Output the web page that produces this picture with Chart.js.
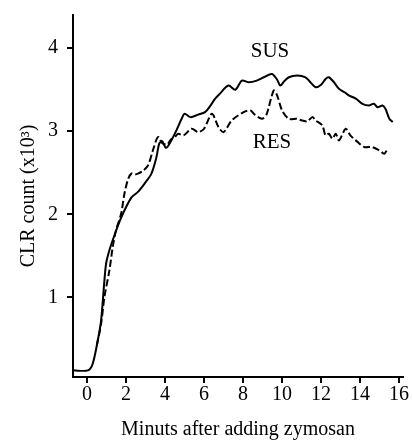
<!DOCTYPE html>
<html>
<head>
<meta charset="utf-8">
<script src="https://cdn.jsdelivr.net/npm/chart.js@4.4.1/dist/chart.umd.min.js"></script>
<style>
  body { margin: 0; background: #fff; }
  canvas { display: block; }
</style>
</head>
<body>
<canvas id="clrChart" width="413" height="441"></canvas>
<script>
// Minutes after adding zymosan (x) and CLR count x10^3 (y)
const susX = [-0.72, 0.05, 0.29, 0.55, 0.72, 0.89, 0.98, 1.15, 1.41, 1.75, 2.27, 2.61, 2.95, 3.3, 3.55, 3.7, 3.85, 4.05, 4.3, 4.6, 4.85, 5.0, 5.3, 5.7, 6.05, 6.3, 6.56, 6.8, 7.25, 7.6, 7.94, 8.3, 8.7, 9.06, 9.48, 9.75, 9.91, 10.1, 10.35, 10.77, 11.2, 11.45, 11.72, 12.0, 12.23, 12.4, 12.66, 12.92, 13.2, 13.44, 13.8, 14.12, 14.45, 14.7, 14.9, 15.15, 15.3, 15.5, 15.67];
const susY = [0.12, 0.12, 0.2, 0.48, 0.72, 1.2, 1.41, 1.57, 1.75, 1.96, 2.2, 2.27, 2.37, 2.49, 2.68, 2.85, 2.88, 2.8, 2.88, 3.02, 3.15, 3.21, 3.17, 3.2, 3.23, 3.3, 3.39, 3.45, 3.55, 3.5, 3.61, 3.59, 3.61, 3.65, 3.69, 3.62, 3.55, 3.6, 3.65, 3.67, 3.65, 3.59, 3.53, 3.56, 3.63, 3.65, 3.59, 3.51, 3.47, 3.43, 3.39, 3.33, 3.31, 3.33, 3.29, 3.31, 3.27, 3.15, 3.11];

const resX = [0.5, 0.72, 0.89, 1.15, 1.32, 1.49, 1.75, 1.92, 2.1, 2.27, 2.45, 2.61, 2.85, 3.13, 3.39, 3.64, 3.85, 4.1, 4.3, 4.5, 4.67, 4.95, 5.36, 5.7, 6.0, 6.4, 6.74, 7.0, 7.42, 8.03, 8.38, 8.6, 8.97, 9.2, 9.57, 9.75, 10.0, 10.35, 10.75, 11.03, 11.3, 11.55, 11.72, 12.06, 12.23, 12.4, 12.58, 12.75, 12.92, 13.26, 13.5, 13.78, 14.21, 14.6, 14.98, 15.24, 15.41];
const resY = [0.42, 0.68, 1.0, 1.33, 1.61, 1.81, 2.01, 2.25, 2.42, 2.49, 2.48, 2.49, 2.52, 2.59, 2.78, 2.93, 2.86, 2.84, 2.9, 2.93, 2.97, 2.95, 3.03, 2.99, 3.03, 3.21, 3.05, 2.99, 3.13, 3.23, 3.25, 3.2, 3.15, 3.2, 3.49, 3.43, 3.25, 3.15, 3.15, 3.13, 3.12, 3.17, 3.13, 3.07, 2.95, 2.97, 2.91, 2.97, 2.89, 3.03, 2.95, 2.89, 2.81, 2.81, 2.77, 2.73, 2.79];

const xTicks = [0, 2, 4, 6, 8, 10, 12, 14, 16];
const yTicks = [1, 2, 3, 4];

// curve labels: text and where they sit (data units)
const curveNames = ['SUS', 'RES'];
const curveNameX = [9.38, 9.48];
const curveNameY = [3.96, 2.87];

const toPoints = (xs, ys) => xs.map((x, i) => ({ x: x, y: ys[i] }));

const serif = 'Liberation Serif';

// writes SUS / RES next to the curves
const curveLabels = {
    id: 'curveLabels',
    afterDatasetsDraw(chart) {
        const ctx = chart.ctx;
        const xs = chart.scales.x;
        const ys = chart.scales.y;
        ctx.save();
        ctx.fillStyle = '#000';
        ctx.font = '21px "' + serif + '"';
        ctx.textAlign = 'center';
        ctx.textBaseline = 'middle';
        curveNames.forEach((name, i) => {
            ctx.fillText(name, xs.getPixelForValue(curveNameX[i]), ys.getPixelForValue(curveNameY[i]));
        });
        ctx.restore();
    }
};

new Chart(document.getElementById('clrChart'), {
    type: 'line',
    data: {
        datasets: [{
            label: 'SUS',
            data: toPoints(susX, susY),
            borderColor: '#000',
            borderWidth: 2,
            pointRadius: 0,
            tension: 0.3,
            fill: false
        }, {
            label: 'RES',
            data: toPoints(resX, resY),
            borderColor: '#000',
            borderWidth: 2,
            borderDash: [7, 3],
            pointRadius: 0,
            tension: 0.3,
            fill: false
        }]
    },
    options: {
        responsive: false,
        animation: false,
        layout: {
            padding: { top: 15, right: 10, left: 19, bottom: 0 }
        },
        plugins: {
            legend: { display: false },
            tooltip: { enabled: false }
        },
        scales: {
            x: {
                type: 'linear',
                min: -0.72,
                max: 16.2,
                afterBuildTicks: (scale) => { scale.ticks = xTicks.map(v => ({ value: v })); },
                grid: { drawOnChartArea: false, drawTicks: true, tickLength: 6, color: '#000', lineWidth: 2 },
                border: { display: true, color: '#000', width: 2 },
                ticks: {
                    color: '#000',
                    padding: 2,
                    maxRotation: 0,
                    font: { family: serif, size: 20, lineHeight: 1 }
                },
                title: {
                    display: true,
                    text: 'Minuts after adding zymosan',
                    color: '#000',
                    padding: { top: 12, bottom: 0 },
                    font: { family: serif, size: 20, lineHeight: 1.1 }
                }
            },
            y: {
                type: 'linear',
                min: 0.04,
                max: 4.4,
                afterBuildTicks: (scale) => { scale.ticks = yTicks.map(v => ({ value: v })); },
                // the top tick is not at the axis end, so no room is needed for its label
                afterFit: (scale) => { scale.paddingTop = 0; },
                grid: { drawOnChartArea: false, drawTicks: true, tickLength: 6, color: '#000', lineWidth: 2 },
                border: { display: true, color: '#000', width: 2 },
                ticks: {
                    color: '#000',
                    padding: 9,
                    font: { family: serif, size: 20 }
                },
                title: {
                    display: true,
                    text: 'CLR count (x10³)',
                    color: '#000',
                    padding: { top: 0, bottom: 0 },
                    font: { family: serif, size: 20, lineHeight: 1 }
                }
            }
        }
    },
    plugins: [curveLabels]
});
</script>
</body>
</html>
